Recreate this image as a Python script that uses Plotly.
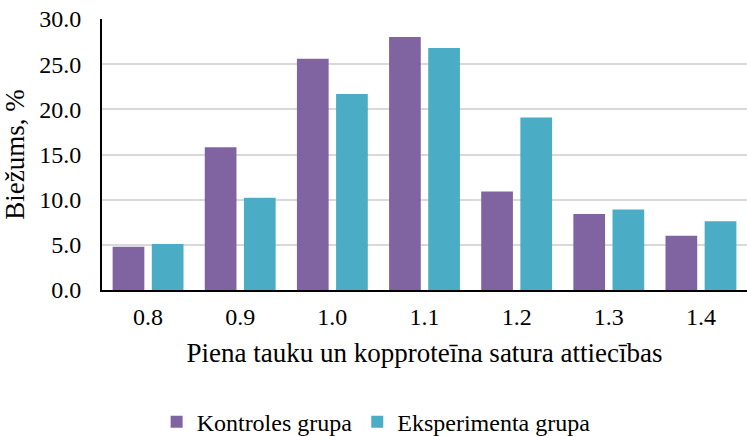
import plotly.graph_objects as go

categories = ["0.8", "0.9", "1.0", "1.1", "1.2", "1.3", "1.4"]
kontroles = [4.8, 15.8, 25.6, 28.0, 10.9, 8.4, 6.0]
eksperimenta = [5.1, 10.2, 21.7, 26.8, 19.1, 8.9, 7.6]
series_names = ["Kontroles grupa", "Eksperimenta grupa"]
colors = ["#8064A2", "#4BACC6"]
y_title = "Biežums, %"
x_title = "Piena tauku un kopproteīna satura attiecības"

FONT = "Liberation Serif"
CLEAR = "rgba(0,0,0,0)"

fig = go.Figure()
for name, vals, col in zip(series_names, [kontroles, eksperimenta], colors):
    fig.add_trace(go.Bar(
        x=categories, y=vals, name=name,
        marker=dict(color=col, line=dict(width=0)),
    ))

fig.update_layout(
    width=747, height=436,
    margin=dict(l=102, r=0, t=19, b=146, autoexpand=False),
    paper_bgcolor="white", plot_bgcolor="white",
    barmode="group", bargap=0.15, bargroupgap=0.19,
    font=dict(family=FONT, size=24, color="#000000"),
    showlegend=True,
    legend=dict(
        orientation="h", x=0.425, xanchor="center",
        yref="paper", y=-0.405, yanchor="top",
        font=dict(family=FONT, size=24, color="#000000"),
        itemwidth=30, tracegroupgap=0,
    ),
)
fig.update_xaxes(
    type="category",
    showline=True, linecolor="#000000", linewidth=2,
    showgrid=False, ticks="outside", ticklen=4, tickcolor=CLEAR,
    tickfont=dict(family=FONT, size=24),
    title=dict(text=x_title, font=dict(family=FONT, size=27), standoff=14),
)
fig.update_yaxes(
    range=[0, 30], dtick=5, tickformat=".1f",
    showline=True, linecolor="#000000", linewidth=2,
    showgrid=True, gridcolor="#D9D9D9", gridwidth=1.5,
    zeroline=False, ticks="outside", ticklen=14, tickcolor=CLEAR,
    tickfont=dict(family=FONT, size=24),
    title=dict(text=y_title, font=dict(family=FONT, size=27), standoff=9),
)

fig.write_html(
    "out.html",
    config={"displayModeBar": False},
    post_script="document.body.style.margin='0';document.body.style.padding='0';",
)
